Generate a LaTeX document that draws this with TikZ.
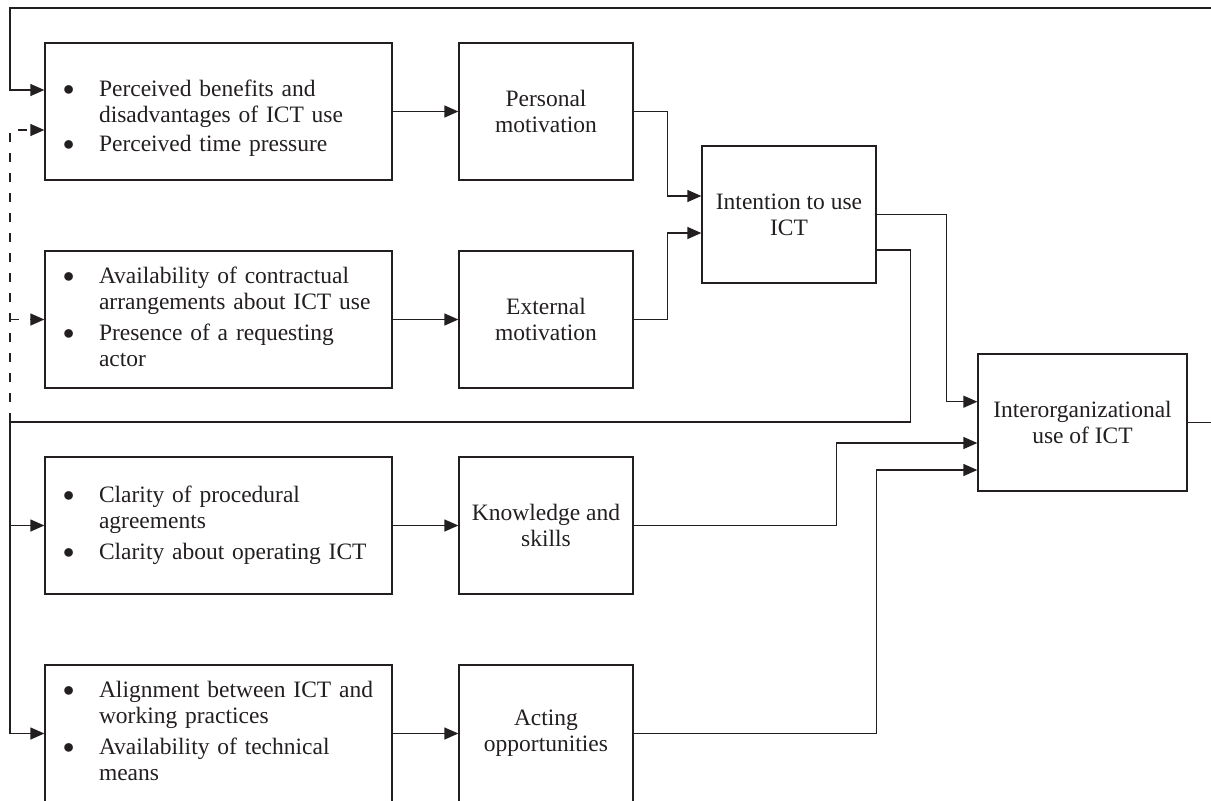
\documentclass[tikz,border=0pt]{standalone}
\usepackage{fontspec}
\setmainfont{Liberation Serif}
\usetikzlibrary{arrows.meta}
\definecolor{ink}{RGB}{35,31,32}
\newcommand{\mainsz}{\fontsize{23.5}{26}\selectfont}
\newcommand{\bul}{\raisebox{0.8pt}{\scalebox{0.9}{$\bullet$}}}
\newcommand{\bitems}[1]{\noindent\begin{tabular}{@{}p{36pt}@{}l@{}}#1\end{tabular}}
\tikzset{
  box/.style={draw=ink, text=ink, line width=1.3pt, minimum height=137pt, inner sep=0pt, align=center, font=\mainsz},
  listbox/.style={box, minimum width=347pt, text width=311pt, align=left, inner xsep=18pt, inner ysep=0pt},
  midbox/.style={box, minimum width=174pt},
  iobox/.style={box, minimum width=209pt},
  conn/.style={draw=ink, line width=1.3pt},
  arr/.style={conn, -{Triangle[length=14pt,width=12pt]}},
  dsh/.style={dash pattern=on 9pt off 11pt}
}
\begin{document}
\begin{tikzpicture}[x=1pt,y=-1pt]
\useasboundingbox (0,0) rectangle (1211,801);
% left column
\node[listbox] (b1) at (218.5,111.5) {\raisebox{-7pt}[\height][\depth]{\bitems{\bul & Perceived benefits and\\ & disadvantages of ICT use\\[3pt] \bul & Perceived time pressure}}};
\node[listbox] (b2) at (218.5,319.5) {\bitems{\bul & Availability of contractual\\ & arrangements about ICT use\\[5pt] \bul & Presence of a requesting\\ & actor}};
\node[listbox] (b3) at (218.5,525.5) {\bitems{\bul & Clarity of procedural\\ & agreements\\[5pt] \bul & Clarity about operating ICT}};
\node[listbox] (b4) at (218.5,733.5) {\bitems{\bul & Alignment between ICT and\\ & working practices\\[5pt] \bul & Availability of technical\\ & means}};
% middle column
\node[midbox] (m1) at (546,111.5) {Personal\\motivation};
\node[midbox] (m2) at (546,319.5) {External\\motivation};
\node[midbox] (m3) at (546,525.5) {Knowledge and\\skills};
\node[midbox] (m4) at (546,733.5) {Acting\\opportunities};
% right
\node[midbox] (int) at (789,214.5) {Intention to use\\ICT};
\node[iobox] (io) at (1082.5,422.5) {Interorganizational\\use of ICT};
% helper coordinates
\coordinate (fb) at (10,422);
\coordinate (tl) at (10,8);
\coordinate (tr) at (1240,8);
% connectors
\draw[arr] (b1.east) -- (m1.west);
\draw[arr] (b2.east) -- (m2.west);
\draw[arr] (b3.east) -- (m3.west);
\draw[arr] (b4.east) -- (m4.west);
\draw[arr] (m1.east) -- ++(34,0) |- ([yshift=18.5pt]int.west);
\draw[arr] (m2.east) -- ++(34,0) |- ([yshift=-18.5pt]int.west);
\draw[arr] (int.east) -- ++(70,0) |- ([yshift=20.8pt]io.west);
\draw[arr] (m3.east) -- ++(203,0) |- ([yshift=-20.5pt]io.west);
\draw[arr] (m4.east) -- ++(243,0) |- ([yshift=-47.5pt]io.west);
% feedback from intention
\draw[arr] ([yshift=-35.5pt]int.east) -- ++(34,0) |- (fb) |- (b4.west);
\draw[arr] (fb |- b3.west) -- (b3.west);
\draw[arr,dsh] (fb) |- ([yshift=-18.5pt]b1.west);
\draw[arr,dsh] (fb |- b2.west) -- (b2.west);
% feedback from use
\draw[arr] (io.east) -- (io.east -| tr) |- (tl) |- ([yshift=21.5pt]b1.west);
\end{tikzpicture}
\end{document}
